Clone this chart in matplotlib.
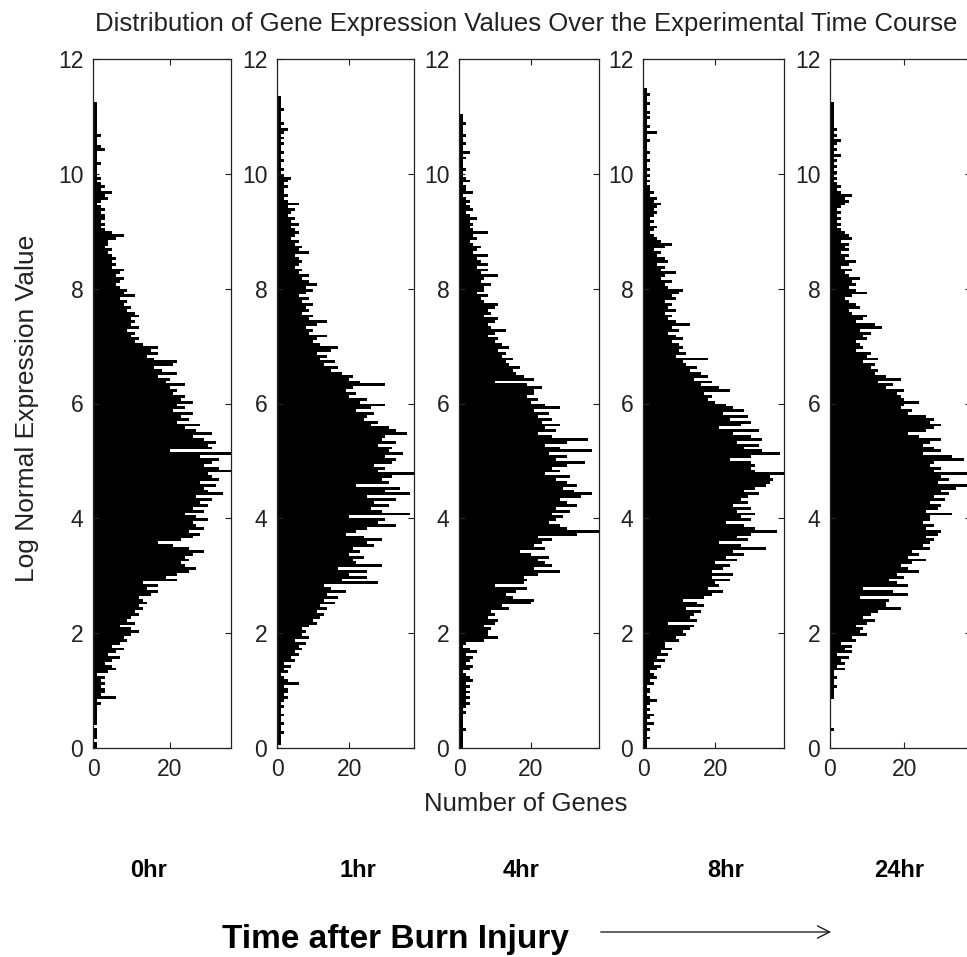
import numpy as np
import matplotlib
matplotlib.use("Agg")
import matplotlib.pyplot as plt
from matplotlib.patches import FancyArrowPatch


BIN_WIDTH = 0.05

TIME_LABELS = ["0hr", "1hr", "4hr", "8hr", "24hr"]

# gene counts per 0.05-wide expression bin, starting at 0
counts_0hr = [
    1, 1, 0, 1, 1, 1, 1, 0, 1, 1, 1, 1, 1, 1, 1, 2, 1, 6, 2, 3,
    3, 2, 3, 2, 3, 1, 4, 6, 5, 3, 5, 7, 4, 6, 8, 5, 7, 9, 8, 10,
    12, 10, 7, 11, 9, 10, 12, 11, 13, 12, 14, 13, 12, 15, 17, 14, 17, 13, 22, 19,
    22, 25, 27, 24, 23, 25, 24, 26, 29, 25, 21, 17, 23, 26, 28, 25, 29, 27, 26, 30,
    27, 24, 29, 26, 30, 28, 31, 27, 34, 30, 29, 32, 28, 33, 31, 30, 36, 33, 29, 31,
    33, 28, 36, 20, 31, 30, 32, 29, 26, 31, 27, 24, 28, 22, 25, 23, 26, 21, 24, 22,
    26, 23, 24, 21, 22, 20, 24, 19, 20, 17, 22, 18, 16, 21, 22, 16, 14, 17, 15, 17,
    13, 11, 12, 10, 11, 9, 12, 10, 11, 10, 12, 11, 9, 10, 8, 9, 7, 11, 8, 9,
    7, 6, 7, 8, 6, 7, 8, 5, 6, 5, 6, 5, 4, 5, 3, 4, 4, 6, 8, 5,
    3, 2, 3, 2, 3, 3, 2, 3, 2, 1, 2, 4, 3, 5, 2, 3, 2, 1, 2, 1,
    1, 1, 1, 2, 1, 1, 1, 1, 3, 2, 1, 1, 1, 2, 1, 1, 1, 1, 1, 1,
    1, 1, 1, 1, 1,
]

counts_1hr = [
    0, 1, 1, 1, 1, 2, 1, 1, 2, 1, 1, 2, 1, 1, 2, 1, 2, 3, 2, 3,
    3, 2, 6, 3, 2, 1, 3, 2, 4, 2, 5, 4, 6, 5, 7, 6, 8, 5, 9, 7,
    8, 7, 9, 11, 10, 12, 13, 11, 14, 12, 16, 13, 17, 14, 19, 15, 13, 28, 18, 25,
    20, 25, 17, 29, 22, 21, 24, 20, 23, 21, 27, 25, 29, 24, 19, 22, 25, 33, 28, 30,
    20, 37, 29, 26, 31, 27, 33, 25, 37, 30, 34, 22, 31, 29, 32, 38, 28, 30, 27, 32,
    33, 30, 35, 31, 32, 28, 33, 29, 30, 36, 33, 31, 26, 28, 24, 25, 27, 22, 26, 30,
    23, 25, 20, 22, 19, 21, 30, 23, 20, 21, 18, 15, 17, 13, 16, 12, 14, 11, 15, 17,
    12, 10, 11, 14, 9, 10, 8, 11, 14, 9, 10, 7, 9, 8, 10, 7, 9, 6, 8, 10,
    8, 11, 9, 7, 9, 6, 7, 5, 6, 7, 6, 5, 9, 6, 7, 5, 6, 4, 5, 6,
    5, 4, 6, 4, 5, 3, 4, 5, 3, 6, 3, 2, 3, 2, 2, 3, 2, 3, 4, 2,
    1, 2, 1, 1, 2, 1, 1, 2, 1, 1, 2, 1, 2, 1, 2, 3, 1, 2, 1, 1,
    1, 1, 2, 1, 1, 1, 1,
]

counts_4hr = [
    1, 1, 1, 1, 1, 1, 2, 1, 1, 1, 1, 1, 2, 1, 2, 3, 2, 3, 2, 3,
    2, 3, 2, 4, 3, 2, 1, 3, 4, 2, 3, 4, 2, 5, 3, 1, 2, 7, 11, 8,
    8, 9, 7, 10, 11, 8, 10, 9, 14, 12, 20, 21, 15, 13, 16, 19, 10, 18, 19, 18,
    22, 28, 21, 26, 24, 22, 25, 20, 17, 24, 21, 23, 26, 22, 33, 39, 30, 28, 25, 27,
    29, 26, 31, 27, 33, 30, 28, 34, 37, 32, 29, 33, 30, 27, 31, 24, 28, 26, 30, 35,
    27, 30, 25, 37, 28, 24, 30, 36, 26, 22, 27, 24, 28, 23, 26, 22, 25, 21, 28, 24,
    20, 22, 19, 21, 21, 23, 19, 10, 21, 18, 16, 15, 17, 14, 13, 15, 12, 13, 11, 14,
    12, 10, 11, 8, 10, 13, 9, 8, 10, 11, 7, 9, 8, 10, 11, 7, 6, 8, 5, 7,
    7, 9, 6, 7, 11, 6, 8, 5, 8, 6, 5, 8, 4, 5, 6, 4, 3, 5, 4, 8,
    4, 3, 4, 3, 5, 3, 2, 4, 3, 2, 3, 2, 1, 4, 2, 2, 1, 3, 2, 1,
    1, 2, 1, 1, 1, 2, 1, 3, 1, 1, 2, 1, 1, 2, 1, 1, 1, 2, 1, 1,
    1,
]

counts_8hr = [
    1, 1, 1, 2, 1, 1, 2, 1, 3, 1, 2, 3, 1, 2, 1, 2, 4, 2, 1, 2,
    2, 1, 3, 2, 4, 3, 2, 4, 5, 3, 6, 4, 7, 5, 8, 6, 6, 10, 9, 12,
    11, 13, 14, 7, 15, 13, 14, 16, 12, 17, 15, 11, 17, 19, 22, 18, 21, 20, 24, 19,
    25, 19, 22, 24, 20, 26, 23, 28, 25, 34, 27, 21, 29, 26, 30, 37, 31, 28, 23, 30,
    27, 31, 26, 30, 25, 29, 27, 29, 32, 28, 31, 34, 35, 36, 35, 39, 31, 30, 31, 30,
    24, 30, 38, 33, 28, 32, 26, 33, 30, 25, 32, 21, 27, 30, 24, 29, 22, 28, 25, 23,
    20, 18, 19, 17, 24, 21, 16, 19, 14, 18, 16, 13, 15, 12, 11, 18, 9, 12, 10, 11,
    10, 8, 11, 9, 7, 10, 8, 13, 9, 7, 8, 6, 9, 7, 8, 6, 9, 8, 10, 11,
    7, 6, 8, 5, 6, 9, 5, 6, 4, 7, 6, 4, 5, 3, 6, 8, 5, 4, 3, 2,
    3, 4, 2, 3, 2, 3, 4, 3, 4, 5, 3, 4, 2, 3, 2, 2, 1, 2, 1, 2,
    1, 2, 1, 1, 2, 1, 1, 2, 1, 1, 1, 2, 1, 1, 4, 1, 2, 1, 1, 2,
    1, 2, 1, 1, 2, 1, 1, 2, 1, 1,
]

counts_24hr = [
    0, 0, 0, 0, 0, 0, 1, 0, 0, 0, 0, 0, 0, 0, 0, 0, 0, 1, 1, 1,
    1, 2, 1, 1, 2, 1, 1, 4, 2, 4, 3, 5, 2, 6, 4, 6, 3, 7, 6, 10,
    8, 9, 7, 10, 12, 9, 11, 13, 19, 15, 15, 16, 8, 21, 17, 9, 21, 18, 16, 20,
    18, 24, 21, 19, 22, 26, 21, 24, 22, 27, 25, 27, 28, 26, 29, 30, 26, 28, 25, 27,
    27, 33, 26, 29, 30, 27, 31, 28, 32, 30, 34, 38, 29, 32, 30, 37, 28, 30, 27, 28,
    36, 33, 25, 30, 28, 25, 27, 30, 24, 21, 26, 28, 30, 27, 28, 26, 21, 22, 19, 20,
    24, 20, 19, 18, 20, 15, 17, 13, 19, 15, 12, 13, 11, 12, 9, 13, 10, 11, 7, 9,
    8, 7, 10, 9, 11, 8, 14, 12, 7, 9, 10, 6, 5, 8, 7, 5, 4, 6, 10, 7,
    5, 7, 6, 8, 5, 4, 6, 3, 5, 7, 4, 5, 3, 5, 4, 5, 3, 6, 5, 4,
    3, 2, 3, 2, 3, 2, 3, 2, 3, 4, 5, 4, 6, 3, 2, 3, 2, 1, 2, 1,
    2, 1, 2, 1, 2, 1, 3, 1, 2, 1, 2, 3, 1, 2, 1, 2, 1, 1, 1, 1,
    1, 1, 1, 1, 1,
]

ALL_COUNTS = [counts_0hr, counts_1hr, counts_4hr, counts_8hr, counts_24hr]

# axes boxes in pixels: left edge, width (figure is 967 x 957)
PANEL_LEFT = [93, 277, 459, 643, 830]
PANEL_WIDTH = [138, 137, 140, 141, 141]
PANEL_TOP = 59
PANEL_BOTTOM = 748
FIG_W, FIG_H = 967, 957

LABEL_X = [149, 358, 521, 726, 899]

FONT = "Liberation Sans"


def fx(px):
    return px / FIG_W


def fy(px):
    return 1 - px / FIG_H


def draw_panel(fig, counts, left_px, width_px):
    """
    One horizontal histogram panel.
    """

    ax = fig.add_axes([
        fx(left_px),
        fy(PANEL_BOTTOM),
        width_px / FIG_W,
        (PANEL_BOTTOM - PANEL_TOP) / FIG_H
    ])

    counts = np.asarray(counts)
    edges = np.arange(len(counts)) * BIN_WIDTH

    ax.barh(edges, counts, height=BIN_WIDTH, align="edge",
            color="black", linewidth=0)

    ax.set_ylim(0, 12)
    ax.set_xlim(0, counts.max())
    ax.set_yticks(np.arange(0, 13, 2))
    ax.set_xticks([0, 20])

    ax.tick_params(direction="in", length=4.5, width=0.8,
                   top=True, right=True, labelsize=16.5, pad=7,
                   colors="#222222", labelcolor="#222222")
    for label in ax.get_xticklabels() + ax.get_yticklabels():
        label.set_fontfamily(FONT)
    for spine in ax.spines.values():
        spine.set_linewidth(0.9)
        spine.set_color("#222222")

    return ax


if __name__ == "__main__":

    fig = plt.figure(figsize=(FIG_W / 100, FIG_H / 100), dpi=100)

    for counts, left_px, width_px in zip(ALL_COUNTS, PANEL_LEFT, PANEL_WIDTH):
        draw_panel(fig, counts, left_px, width_px)

    fig.text(fx(526), fy(24),
             "Distribution of Gene Expression Values Over the Experimental Time Course",
             ha="center", va="center", fontsize=18.5, family=FONT, color="#222222")

    fig.text(fx(27), fy(408), "Log Normal Expression Value",
             rotation=90, ha="center", va="center", fontsize=19,
             family=FONT, color="#222222")

    fig.text(fx(526), fy(804), "Number of Genes",
             ha="center", va="center", fontsize=18.5, family=FONT, color="#222222")

    for label, x_px in zip(TIME_LABELS, LABEL_X):
        fig.text(fx(x_px), fy(877), label,
                 ha="center", va="baseline", fontsize=17,
                 fontweight="bold", family=FONT)

    fig.text(fx(396), fy(948), "Time after Burn Injury",
             ha="center", va="baseline", fontsize=24,
             fontweight="bold", family=FONT)

    fig.add_artist(FancyArrowPatch(
        (fx(598), fy(932)), (fx(834), fy(932)),
        transform=fig.transFigure, arrowstyle="->", mutation_scale=22,
        linewidth=1.0, color="#222222"
    ))

    fig.savefig("out.png", dpi=100)
    plt.close(fig)
